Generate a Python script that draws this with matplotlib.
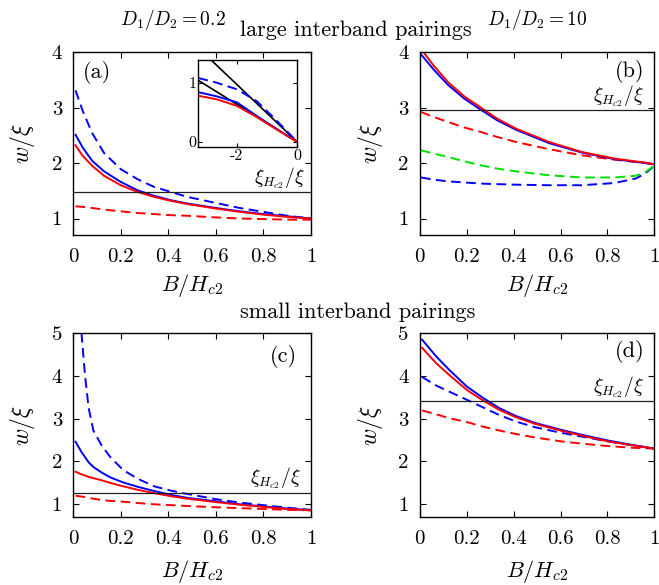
import numpy as np
import matplotlib
matplotlib.use('Agg')
from matplotlib import pyplot as plt
from matplotlib.transforms import blended_transform_factory

plt.rcParams['font.family'] = 'serif'
plt.rcParams['font.serif'] = ['cmr10', 'DejaVu Serif']
plt.rcParams['mathtext.fontset'] = 'cm'
plt.rcParams['axes.unicode_minus'] = False

RED = '#ff0000'
BLUE = '#0000ff'
GREEN = '#00e000'

# ---- panel (a): D1/D2 = 0.2, large interband pairings
xa = [0.01, 0.04, 0.08, 0.13, 0.2, 0.27, 0.34, 0.41, 0.48, 0.6, 0.7, 0.8, 0.9, 1.0]
a_blue_dash = [3.31, 2.94, 2.54, 2.18, 1.89, 1.71, 1.57, 1.48, 1.39, 1.28, 1.19, 1.12, 1.05, 1.0]
a_blue = [2.51, 2.28, 2.04, 1.85, 1.66, 1.51, 1.41, 1.33, 1.27, 1.19, 1.13, 1.08, 1.04, 1.0]
a_red = [2.32, 2.13, 1.95, 1.77, 1.60, 1.48, 1.39, 1.32, 1.26, 1.18, 1.12, 1.07, 1.03, 1.0]
a_red_dash = [1.22, 1.21, 1.19, 1.16, 1.13, 1.10, 1.08, 1.06, 1.05, 1.02, 1.0, 0.99, 0.98, 0.98]
a_xi = 1.47

# inset of (a)
ins_x = [-3.27, -2.66, -2.0, -1.34, -0.68, 0.0]
ins_blue_dash = [1.08, 1.0, 0.89, 0.69, 0.36, 0.0]
ins_blue = [0.84, 0.77, 0.67, 0.44, 0.22, 0.0]
ins_red = [0.78, 0.72, 0.61, 0.42, 0.21, 0.0]
ins_black1_x = [-3.27, 0.0]
ins_black1 = [1.59, 0.0]
ins_black2_x = [-3.27, 0.0]
ins_black2 = [1.04, 0.0]

# ---- panel (b): D1/D2 = 10, large interband pairings
xb = [0.005, 0.06, 0.12, 0.19, 0.26, 0.33, 0.41, 0.55, 0.69, 0.83, 0.92, 0.96, 0.995]
b_red = [4.06, 3.75, 3.46, 3.20, 3.00, 2.80, 2.62, 2.38, 2.20, 2.08, 2.03, 2.01, 1.98]
b_blue = [3.96, 3.68, 3.41, 3.16, 2.96, 2.77, 2.60, 2.36, 2.19, 2.07, 2.02, 2.00, 1.98]
b_red_dash = [2.92, 2.83, 2.74, 2.64, 2.56, 2.47, 2.38, 2.25, 2.14, 2.06, 2.02, 2.00, 1.98]
b_green_dash = [2.23, 2.17, 2.11, 2.03, 1.96, 1.90, 1.85, 1.78, 1.74, 1.74, 1.77, 1.83, 1.94]
b_blue_dash = [1.74, 1.70, 1.67, 1.65, 1.63, 1.62, 1.61, 1.60, 1.60, 1.64, 1.72, 1.81, 1.93]
b_xi = 2.95

# ---- panel (c): D1/D2 = 0.2, small interband pairings
xc = [0.01, 0.035, 0.05, 0.065, 0.085, 0.12, 0.155, 0.21, 0.27, 0.34, 0.41, 0.48, 0.6, 0.7, 0.8, 0.9, 1.0]
c_blue_dash = [np.nan, 5.0, 4.0, 3.25, 2.72, 2.37, 2.11, 1.80, 1.60, 1.42, 1.32, 1.24, 1.12, 1.04, 0.98, 0.92, 0.87]
c_blue = [2.46, 2.22, 2.10, 1.98, 1.87, 1.74, 1.63, 1.51, 1.41, 1.31, 1.22, 1.15, 1.07, 1.00, 0.95, 0.90, 0.86]
c_red = [1.76, 1.70, 1.67, 1.64, 1.61, 1.56, 1.50, 1.42, 1.34, 1.26, 1.19, 1.13, 1.05, 0.99, 0.94, 0.89, 0.86]
c_red_dash = [1.20, 1.18, 1.17, 1.15, 1.13, 1.10, 1.08, 1.06, 1.03, 1.00, 0.98, 0.96, 0.93, 0.91, 0.89, 0.87, 0.86]
c_xi = 1.27

# ---- panel (d): D1/D2 = 10, small interband pairings
xd = [0.01, 0.07, 0.125, 0.2, 0.27, 0.34, 0.41, 0.49, 0.6, 0.7, 0.8, 0.9, 1.0]
d_blue = [4.84, 4.45, 4.14, 3.75, 3.48, 3.24, 3.06, 2.90, 2.74, 2.61, 2.49, 2.39, 2.30]
d_red = [4.65, 4.29, 4.02, 3.67, 3.42, 3.20, 3.03, 2.88, 2.72, 2.59, 2.47, 2.38, 2.30]
d_blue_dash = [3.97, 3.77, 3.63, 3.44, 3.26, 3.08, 2.93, 2.80, 2.67, 2.57, 2.47, 2.38, 2.30]
d_red_dash = [3.19, 3.10, 3.01, 2.92, 2.81, 2.72, 2.64, 2.56, 2.47, 2.41, 2.36, 2.32, 2.30]
d_xi = 3.40

xticks = [0, 0.2, 0.4, 0.6, 0.8, 1]
xticklabels = ['0', '0.2', '0.4', '0.6', '0.8', '1']

LW = 1.4
DASH = (5, 2.8)

fig = plt.figure(figsize=(6.59, 5.85), dpi=100)
ax_a = fig.add_axes([0.111, 0.598, 0.361, 0.313])
ax_b = fig.add_axes([0.637, 0.598, 0.356, 0.313])
ax_c = fig.add_axes([0.111, 0.116, 0.361, 0.315])
ax_d = fig.add_axes([0.637, 0.116, 0.356, 0.315])


def style(ax, ylim, yticks, xlab_y):
    ax.set_xlim(0, 1)
    ax.set_ylim(*ylim)
    ax.set_xticks(xticks)
    ax.set_xticklabels(xticklabels)
    ax.set_yticks(yticks)
    ax.set_yticklabels([str(t) for t in yticks])
    ax.tick_params(direction='in', top=True, right=True, length=4, width=0.8,
                   labelsize=15)
    ax.tick_params(axis='x', pad=9)
    ax.tick_params(axis='y', pad=8)
    ax.set_xlabel(r'$B/H_{c2}$', fontsize=16)
    ax.set_ylabel(r'$w/\xi$', fontsize=17)
    ax.xaxis.set_label_coords(0.5, xlab_y)
    ax.yaxis.set_label_coords(-0.15, 0.5)
    for s in ax.spines.values():
        s.set_linewidth(1.0)


def xi_line(ax, yv, xr):
    ax.axhline(yv, color='#202020', lw=0.9)
    tr = blended_transform_factory(ax.transAxes, ax.transData)
    ax.annotate(r'$\xi_{H_{c2}}/\xi$', xy=(xr, yv), xycoords=tr,
                xytext=(0, 1), textcoords='offset points',
                ha='right', va='bottom', fontsize=14)


# (a)
ax = ax_a
ax.plot(xa, a_blue_dash, color=BLUE, lw=LW, dashes=DASH)
ax.plot(xa, a_red_dash, color=RED, lw=LW, dashes=DASH)
ax.plot(xa, a_blue, color=BLUE, lw=LW)
ax.plot(xa, a_red, color=RED, lw=LW)
xi_line(ax, a_xi, 0.975)
style(ax, (0.7, 4), [1, 2, 3, 4], -0.2)
ax.text(0.04, 0.95, '(a)', transform=ax.transAxes, ha='left', va='top', fontsize=16)

# inset
axi = fig.add_axes([0.301, 0.749, 0.150, 0.149])
axi.plot(ins_black1_x, ins_black1, color='black', lw=1.2)
axi.plot(ins_black2_x, ins_black2, color='black', lw=1.2)
axi.plot(ins_x, ins_blue_dash, color=BLUE, lw=LW, dashes=DASH)
axi.plot(ins_x, ins_blue, color=BLUE, lw=LW)
axi.plot(ins_x, ins_red, color=RED, lw=LW)
axi.set_xlim(-3.27, 0)
axi.set_ylim(-0.083, 1.39)
axi.set_xticks([-2, 0])
axi.set_xticklabels(['-2', '0'])
axi.set_yticks([0, 1])
axi.set_yticklabels(['0', '1'])
axi.tick_params(direction='in', top=True, right=True, length=3, width=0.8,
                labelsize=11.5, pad=1.5)
for s in axi.spines.values():
    s.set_linewidth(1.0)

# (b)
ax = ax_b
ax.plot(xb, b_blue_dash, color=BLUE, lw=LW, dashes=DASH)
ax.plot(xb, b_green_dash, color=GREEN, lw=LW, dashes=DASH)
ax.plot(xb, b_red_dash, color=RED, lw=LW, dashes=DASH)
ax.plot(xb, b_blue, color=BLUE, lw=LW)
ax.plot(xb, b_red, color=RED, lw=LW)
xi_line(ax, b_xi, 0.958)
style(ax, (0.7, 4), [1, 2, 3, 4], -0.2)
ax.text(0.958, 0.955, '(b)', transform=ax.transAxes, ha='right', va='top', fontsize=16)

# (c)
ax = ax_c
ax.plot(xc, c_blue_dash, color=BLUE, lw=LW, dashes=DASH)
ax.plot(xc, c_red_dash, color=RED, lw=LW, dashes=DASH)
ax.plot(xc, c_blue, color=BLUE, lw=LW)
ax.plot(xc, c_red, color=RED, lw=LW)
xi_line(ax, c_xi, 0.96)
style(ax, (0.7, 5), [1, 2, 3, 4, 5], -0.22)
ax.text(0.94, 0.935, '(c)', transform=ax.transAxes, ha='right', va='top', fontsize=16)

# (d)
ax = ax_d
ax.plot(xd, d_blue_dash, color=BLUE, lw=LW, dashes=DASH)
ax.plot(xd, d_red_dash, color=RED, lw=LW, dashes=DASH)
ax.plot(xd, d_blue, color=BLUE, lw=LW)
ax.plot(xd, d_red, color=RED, lw=LW)
xi_line(ax, d_xi, 0.958)
style(ax, (0.7, 5), [1, 2, 3, 4, 5], -0.22)
ax.text(0.958, 0.96, '(d)', transform=ax.transAxes, ha='right', va='top', fontsize=16)

# headings
fig.text(0.262, 0.966, r'$D_1/D_2=0.2$', ha='center', va='center', fontsize=14)
fig.text(0.815, 0.966, r'$D_1/D_2=10$', ha='center', va='center', fontsize=14)
fig.text(0.54, 0.948, 'large interband pairings', ha='center', va='center', fontsize=16)
fig.text(0.543, 0.466, 'small interband pairings', ha='center', va='center', fontsize=16)

fig.savefig('out.png', dpi=100)
